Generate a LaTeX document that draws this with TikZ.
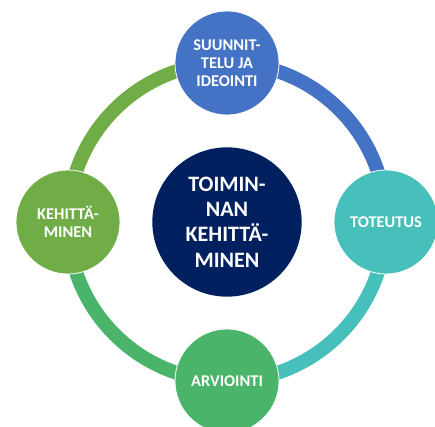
\documentclass[tikz,border=0pt]{standalone}
\usepackage{fontspec}
\setmainfont{Carlito}
\usetikzlibrary{backgrounds}
\definecolor{PlanBlue}{HTML}{4472C4}
\definecolor{DoTeal}{HTML}{47BFBA}
\definecolor{EvalGreen}{HTML}{4AB56A}
\definecolor{DevGreen}{HTML}{70AD47}
\definecolor{HubNavy}{HTML}{002060}

\begin{document}
\begin{tikzpicture}[x=0.75pt,y=0.75pt, every node/.style={text=white,align=center},
stage/.style={circle,draw=white,line width=0.6pt,minimum size=78pt,inner sep=0pt,font=\fontsize{12.3}{13.5}\selectfont\bfseries},
hub/.style={circle,fill=HubNavy,minimum size=112pt,inner sep=0pt,font=\fontsize{16.5}{19}\selectfont\bfseries},
ring/.style={line width=10.5pt}]
\useasboundingbox (-227,-205) rectangle (208,222);
\node[hub] (hub) at (0,0) {TOIMIN-\\NAN\\KEHITTÄ-\\MINEN};
\node[stage,fill=PlanBlue] (plan) at (90:159) {SUUNNIT-\\TELU JA\\IDEOINTI};
\node[stage,fill=DoTeal] (do) at (0:159) {TOTEUTUS};
\node[stage,fill=EvalGreen] (eval) at (-90:159) {ARVIOINTI};
\node[stage,fill=DevGreen] (dev) at (180:159) {KEHITTÄ-\\MINEN};
% ring behind the stages
\begin{scope}[on background layer]
\draw[ring,PlanBlue] (plan.center) arc[start angle=90,end angle=0,radius=159];
\draw[ring,DoTeal] (do.center) arc[start angle=0,end angle=-90,radius=159];
\draw[ring,EvalGreen] (eval.center) arc[start angle=-90,end angle=-180,radius=159];
\draw[ring,DevGreen] (dev.center) arc[start angle=180,end angle=90,radius=159];
\end{scope}
\end{tikzpicture}
\end{document}
